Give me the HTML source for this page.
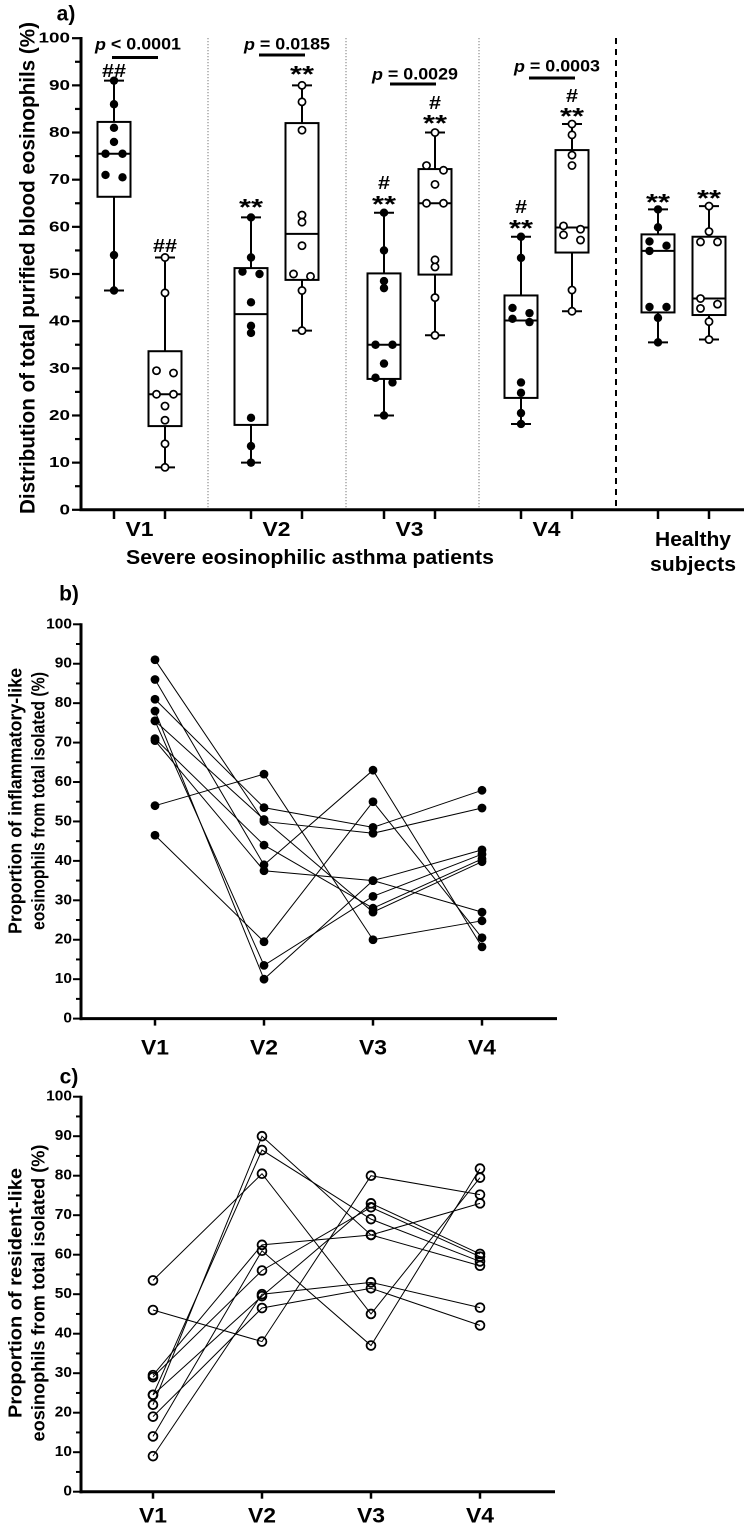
<!DOCTYPE html>
<html><head><meta charset="utf-8"><style>
html,body{margin:0;padding:0;background:#fff;}
svg{display:block;font-family:"Liberation Sans",Arial,sans-serif;font-weight:bold;}
</style></head><body>
<svg id="fig" width="744" height="1526" viewBox="0 0 744 1526" xmlns="http://www.w3.org/2000/svg"></svg>
<script>
// ---------- data ----------
const visits = ['V1','V2','V3','V4'];
const inflV1 = [91,86,81,78,75.5,75.5,71,70.5,54,46.5];
const inflV2 = [50,39,53.5,10,13.5,50.5,44,37.5,62,19.5];
const inflV3 = [47,63,48.5,35,31,27,28,35,20,55];
const inflV4 = [53.4,18.2,57.9,42.8,41.7,39.8,40.5,27,24.8,20.5];
const resV1 = [9,14,19,22,24.5,24.5,29,29.5,46,53.5];
const resV2 = [50,61,46.5,90,86.5,49.5,56,62.5,38,80.5];
const resV3 = [53,37,51.5,65,69,73,72,65,80,45];
const resV4 = [46.6,81.8,42.1,57.2,58.3,60.2,59.5,73,75.2,79.5];
const healthyInfl = [63.7,59.9,56.9,56,54.9,43,43,40.7,35.5];
const healthyRes = [64.4,59,56.8,56.8,44.8,43.6,42.7,39.9,36.1];
const yTicks = [0,10,20,30,40,50,60,70,80,90,100];
const pLabels = ['< 0.0001','= 0.0185','= 0.0029','= 0.0003'];

const NS='http://www.w3.org/2000/svg';
const svg=document.getElementById('fig');
function mk(tag,attrs,parent){const e=document.createElementNS(NS,tag);for(const k in attrs)e.setAttribute(k,attrs[k]);(parent||svg).appendChild(e);return e;}
function txt(x,y,s,size,anchor,len,parent){const t=mk('text',{x:x,y:y,'font-size':size,'text-anchor':anchor||'middle','dominant-baseline':'central'},parent);if(len){t.setAttribute('textLength',len);t.setAttribute('lengthAdjust','spacingAndGlyphs');}t.textContent=s;return t;}

// ---------- panel a ----------
const ya=v=>509.8-v*4.716;
const gA=mk('g',{});


const groupX=[114,165,251,302,384,435,521,572,658,709];
const groups=[inflV1,resV1,inflV2,resV2,inflV3,resV3,inflV4,resV4,healthyInfl,healthyRes];
[208,346,479].forEach((x,i)=>{const l=mk('line',{x1:x,x2:x,y1:38,y2:508,stroke:'#777','stroke-width':1,'stroke-dasharray':'1.2,1.8'},gA);

});
const dl=mk('line',{x1:616,x2:616,y1:38,y2:506,stroke:'#000','stroke-width':2,'stroke-dasharray':'6,5'},gA);


const axA=mk('line',{x1:81,x2:81,y1:37,y2:511,stroke:'#000','stroke-width':3},gA);


const xaA=mk('line',{x1:79.5,x2:744,y1:509.8,y2:509.8,stroke:'#000','stroke-width':3},gA);


for(let v=0;v<=100;v+=5){const maj=v%10===0;mk('line',{x1:maj?72:75,x2:81,y1:ya(v),y2:ya(v),stroke:'#000','stroke-width':2.2},gA);}
yTicks.forEach(v=>{const t=txt(70,ya(v),String(v),15,'end',String(v).length*10.5,gA);

});
groupX.forEach(x=>mk('line',{x1:x,x2:x,y1:509,y2:519,stroke:'#000','stroke-width':2.5},gA));
function quart(arr,p){const s=[...arr].sort((a,b)=>a-b),n=s.length;let pos=(n+1)*p;if(pos<1)pos=1;if(pos>n)pos=n;const lo=Math.floor(pos),f=pos-lo;return lo>=n?s[n-1]:s[lo-1]+f*(s[lo]-s[lo-1]);}
groups.forEach((d,gi)=>{
  const cx=groupX[gi],open=gi%2===1;
  const g=mk('g',{},gA);
  
  
  const mn=Math.min(...d),mx=Math.max(...d),q1=quart(d,.25),md=quart(d,.5),q3=quart(d,.75);
  mk('line',{x1:cx,x2:cx,y1:ya(mx),y2:ya(q3),stroke:'#000','stroke-width':2},g);
  mk('line',{x1:cx,x2:cx,y1:ya(q1),y2:ya(mn),stroke:'#000','stroke-width':2},g);
  mk('line',{x1:cx-10,x2:cx+10,y1:ya(mx),y2:ya(mx),stroke:'#000','stroke-width':2},g);
  mk('line',{x1:cx-10,x2:cx+10,y1:ya(mn),y2:ya(mn),stroke:'#000','stroke-width':2},g);
  mk('rect',{x:cx-16.5,y:ya(q3),width:33,height:ya(q1)-ya(q3),fill:'none',stroke:'#000','stroke-width':2},g);
  mk('line',{x1:cx-16.5,x2:cx+16.5,y1:ya(md),y2:ya(md),stroke:'#000','stroke-width':2},g);
  const s=[...d].sort((a,b)=>b-a);let cl=[];const clusters=[];
  s.forEach(v=>{if(cl.length&&ya(v)-ya(cl[cl.length-1])>7){clusters.push(cl);cl=[];}cl.push(v);});clusters.push(cl);
  clusters.forEach(c=>c.forEach((v,i)=>{const off=c.length<2?0:(i%2?8.5:-8.5);
    const p=mk('circle',{cx:cx+off,cy:ya(v),r:open?3.6:4.2,fill:open?'#fff':'#000',stroke:'#000','stroke-width':open?1.7:0},g);
    
    }));
});
const pPos=[[138,44,112,158,57.5],[287,44,259,305,55],[415,74,390,436,84],[557,66,529,575,78]];
pPos.forEach((p,i)=>{
  const t=mk('text',{x:p[0],y:p[1],'font-size':17,'text-anchor':'middle','dominant-baseline':'central',textLength:86,lengthAdjust:'spacingAndGlyphs'},gA);
  const it=document.createElementNS(NS,'tspan');it.setAttribute('font-style','italic');it.textContent='p ';t.appendChild(it);
  t.appendChild(document.createTextNode(pLabels[i]));
  
  
  const b=mk('line',{x1:p[2],x2:p[3],y1:p[4],y2:p[4],stroke:'#000','stroke-width':3},gA);
  
  
});
const marks=[[114,71,'##'],[165,246,'##'],[251,207,'**'],[302,74,'**'],[384,183,'#'],[384,204,'**'],[435,103,'#'],[435,123,'**'],[521,207,'#'],[521,228,'**'],[572,96,'#'],[572,116,'**'],[658,202,'**'],[709,198,'**']];
marks.forEach(m=>{const t=txt(m[0],m[1],m[2],m[2]==='**'?23:18,'middle',m[2].length*12,gA);

});
const aLab=txt(66,14,'a)',21,'middle',null,gA);


const ytA=txt(0,0,'Distribution of total purified blood eosinophils (%)',21,'middle',492,gA);
ytA.setAttribute('transform','translate(28,268) rotate(-90)');


[[139.5,'V1'],[276.5,'V2'],[409.5,'V3'],[546.5,'V4']].forEach(v=>{const t=txt(v[0],530,v[1],20,'middle',28,gA);

});
const sev=txt(310,558,'Severe eosinophilic asthma patients',20,'middle',368,gA);


const h1=txt(693,540,'Healthy',20,'middle',76,gA);


const h2=txt(693,565,'subjects',20,'middle',86,gA);



// ---------- panels b & c ----------
function linePanel(name,label,labY,y0,y100,x0,xEnd,series,open,t1,t2,t1Len,t2Len,titleY,xLabY){
  const g=mk('g',{});
  
  
  const yf=v=>y0-v*(y0-y100)/100;
  const xf=i=>x0+i*109;
  const ax=mk('line',{x1:81,x2:81,y1:y100-1,y2:y0+1.5,stroke:'#000','stroke-width':3},g);
  
  
  const xa=mk('line',{x1:79.5,x2:xEnd,y1:y0,y2:y0,stroke:'#000','stroke-width':3},g);
  
  
  for(let v=0;v<=100;v+=5){const maj=v%10===0;mk('line',{x1:maj?73:76,x2:81,y1:yf(v),y2:yf(v),stroke:'#000','stroke-width':2},g);}
  yTicks.forEach(v=>{const t=txt(72,yf(v),String(v),14.5,'end',String(v).length*8.6,g);
  
  });
  visits.forEach((v,i)=>{mk('line',{x1:xf(i),x2:xf(i),y1:y0,y2:y0+7,stroke:'#000','stroke-width':2.5},g);
    const t=txt(xf(i),xLabY,v,21,'middle',28,g);
    
    });
  const n=series[0].length;
  for(let p=0;p<n;p++){
    const pts=series.map((s,i)=>xf(i)+','+yf(s[p])).join(' ');
    const pl=mk('polyline',{points:pts,fill:'none',stroke:'#000','stroke-width':1},g);
    
    
  }
  series.forEach((s,i)=>s.forEach(v=>{
    const c=mk('circle',{cx:xf(i),cy:yf(v),r:4.4,fill:open?'none':'#000',stroke:'#000','stroke-width':open?1.8:0},g);
    
    }));
  const pl=txt(69,labY,label,21,'middle',null,g);
  
  
  const a=txt(0,0,t1,18.5,'middle',t1Len,g);a.setAttribute('transform','translate(15,'+titleY+') rotate(-90)');
  
  
  const b=txt(0,0,t2,18.5,'middle',t2Len,g);b.setAttribute('transform','translate(38,'+titleY+') rotate(-90)');
  
  
}
linePanel('panel-b','b)',594,1018.6,624.3,155,557,[inflV1,inflV2,inflV3,inflV4],false,
  'Proportion of inflammatory-like','eosinophils from total isolated (%)',266,258,801,1048);
linePanel('panel-c','c)',1077,1491.7,1096.7,153,555,[resV1,resV2,resV3,resV4],true,
  'Proportion of resident-like','eosinophils from total isolated (%)',250,297,1293,1516);
</script>
</body></html>
